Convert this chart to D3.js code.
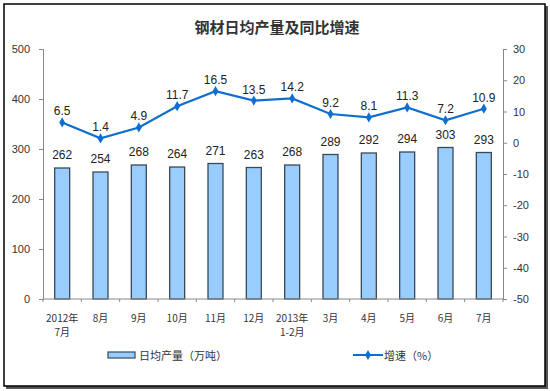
<!DOCTYPE html>
<html><head><meta charset="utf-8">
<script src="https://cdn.jsdelivr.net/npm/d3@7/dist/d3.min.js"></script>
<style>
body{margin:0;background:#fff;}
svg{display:block;font-family:"Liberation Sans",Arial,"Noto Sans CJK SC",sans-serif;}
</style></head>
<body><svg id="c" width="550" height="391"></svg>
<script>
const categories = [["2012年","7月"],["8月"],["9月"],["10月"],["11月"],["12月"],["2013年","1-2月"],["3月"],["4月"],["5月"],["6月"],["7月"]];
const output = [262,254,268,264,271,263,268,289,292,294,303,293];
const growth = [6.5,1.4,4.9,11.7,16.5,13.5,14.2,9.2,8.1,11.3,7.2,10.9];
const leftTicks = [0,100,200,300,400,500];
const rightTicks = [-50,-40,-30,-20,-10,0,10,20,30];
const title = "钢材日均产量及同比增速";
const legendBar = "日均产量（万吨）";
const legendLine = "增速（%）";

const svg = d3.select("#c");
const cjk = '"Noto Sans CJK SC",sans-serif';
// frame with shadow
svg.append("rect").attr("x",6).attr("y",6).attr("width",542).attr("height",383).attr("fill","#555");
svg.append("rect").attr("x",4).attr("y",4).attr("width",541).attr("height",382).attr("fill","#fff").attr("stroke","#000").attr("stroke-width",1.5);

const L=43,R=503,T=49,B=299;
const x = d3.scaleBand().domain(d3.range(categories.length)).range([L,R]);
const yL = d3.scaleLinear().domain([0,500]).range([B,T]);
const yR = d3.scaleLinear().domain([-50,30]).range([B,T]);

svg.append("text").attr("x",277).attr("y",33).attr("text-anchor","middle")
  .style("font-family",cjk).style("font-size","15px").style("font-weight","bold").attr("fill","#333").text(title);

// axes
const gL = svg.append("g").attr("transform",`translate(${L},0)`)
  .call(d3.axisLeft(yL).tickValues(leftTicks).tickFormat(d=>String(d)).tickSize(4).tickPadding(9));
const gR = svg.append("g").attr("transform",`translate(${R},0)`)
  .call(d3.axisRight(yR).tickValues(rightTicks).tickFormat(d=>String(d)).tickSize(4).tickPadding(6));
[gL,gR].forEach(g=>{
  g.select(".domain").attr("stroke","#888");
  g.selectAll(".tick line").attr("stroke","#888");
  g.selectAll(".tick text").attr("fill","#333").style("font-size","11px").style("font-family","'Liberation Sans',Arial");
});

// bars
svg.append("g").selectAll("rect").data(output).join("rect")
  .attr("x",(d,i)=>x(i)+x.bandwidth()/2-7.5).attr("width",15)
  .attr("y",d=>yL(d)).attr("height",d=>B-yL(d))
  .attr("fill","#99CCFF").attr("stroke","#3a4a55").attr("stroke-width",1.3);

// bottom axis
const gB = svg.append("g").attr("transform",`translate(0,${B})`);
gB.append("line").attr("x1",L).attr("x2",R).attr("stroke","#888");
gB.selectAll("line.t").data(d3.range(categories.length+1)).join("line").attr("class","t")
  .attr("x1",i=>L+i*x.step()).attr("x2",i=>L+i*x.step()).attr("y1",0).attr("y2",3).attr("stroke","#888");
const cl = gB.selectAll("text").data(categories).join("text")
  .attr("text-anchor","middle").attr("fill","#333").style("font-family",cjk).style("font-size","10px");
cl.each(function(d,i){
  const t=d3.select(this);
  d.forEach((s,j)=>t.append("tspan").attr("x",x(i)+x.bandwidth()/2).attr("y",23+j*14).text(s));
});

// bar labels
svg.append("g").selectAll("text").data(output).join("text")
  .attr("x",(d,i)=>x(i)+x.bandwidth()/2).attr("y",d=>yL(d)-9)
  .attr("text-anchor","middle").attr("fill","#222").style("font-size","12px").text(d=>d);

// line
const cx = i=>x(i)+x.bandwidth()/2;
svg.append("path").datum(growth)
  .attr("d",d3.line().x((d,i)=>cx(i)).y(d=>yR(d)))
  .attr("fill","none").attr("stroke","#0F6FD0").attr("stroke-width",2.2);
svg.append("g").selectAll("path").data(growth).join("path")
  .attr("transform",(d,i)=>`translate(${cx(i)},${yR(d)})`)
  .attr("d",d3.symbol(d3.symbolDiamond,30)).attr("fill","#0F6FD0");
svg.append("g").selectAll("text").data(growth).join("text")
  .attr("x",(d,i)=>cx(i)).attr("y",d=>yR(d)-7)
  .attr("text-anchor","middle").attr("fill","#222").style("font-size","12px").text(d=>d.toFixed(1));

// legend
svg.append("rect").attr("x",108).attr("y",352).attr("width",27).attr("height",6)
  .attr("fill","#99CCFF").attr("stroke","#3a4a55").attr("stroke-width",1.2);
svg.append("text").attr("x",139).attr("y",359.5).style("font-family",cjk).style("font-size","11px").attr("fill","#333").text(legendBar);
svg.append("line").attr("x1",353).attr("x2",383).attr("y1",355).attr("y2",355).attr("stroke","#0F6FD0").attr("stroke-width",2);
svg.append("path").attr("transform","translate(368,355)").attr("d",d3.symbol(d3.symbolDiamond,30)).attr("fill","#0F6FD0");
svg.append("text").attr("x",384).attr("y",359.5).style("font-family",cjk).style("font-size","11px").attr("fill","#333").text(legendLine);
</script></body></html>
